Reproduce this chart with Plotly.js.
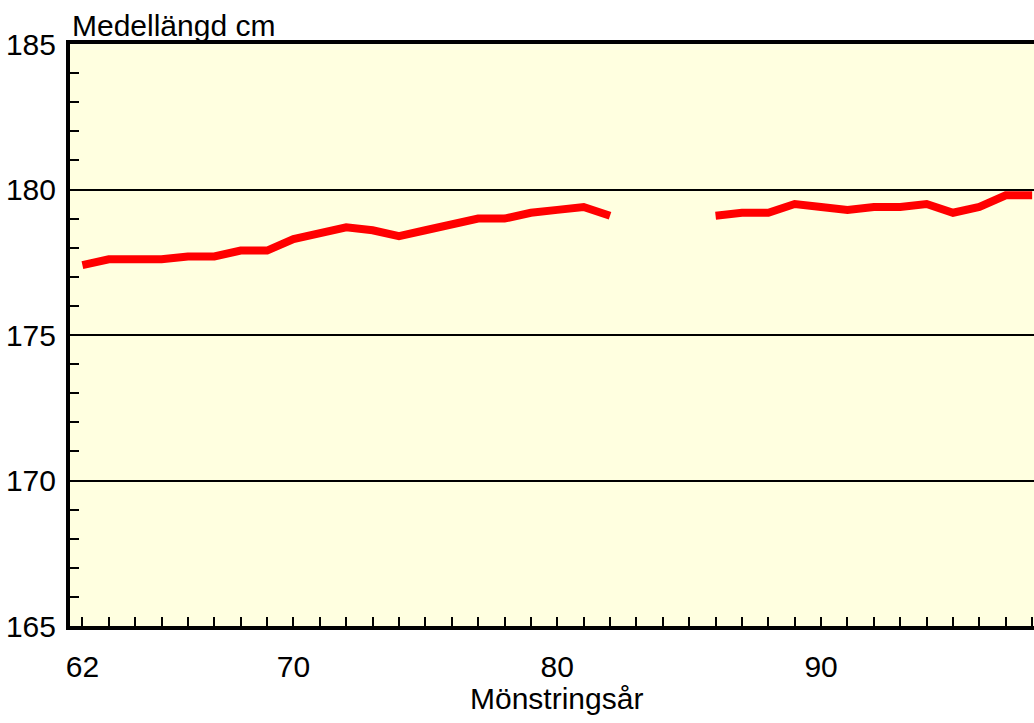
<!DOCTYPE html>
<html>
<head>
<meta charset="utf-8">
<script src="https://cdn.plot.ly/plotly-3.0.1.min.js"></script>
<style>html,body{margin:0;padding:0;background:#fff;}#chart{width:1034px;height:723px;}</style>
</head>
<body>
<div id="chart"></div>
<script>
const years = [62,63,64,65,66,67,68,69,70,71,72,73,74,75,76,77,78,79,80,81,82,83,84,85,86,87,88,89,90,91,92,93,94,95,96,97,98];
const heights = [177.4,177.6,177.6,177.6,177.7,177.7,177.9,177.9,178.3,178.5,178.7,178.6,178.4,178.6,178.8,179.0,179.0,179.2,179.3,179.4,179.1,null,null,null,179.1,179.2,179.2,179.5,179.4,179.3,179.4,179.4,179.5,179.2,179.4,179.8,179.8];
const xTickVals = [62,70,80,90];
const xTickText = ['62','70','80','90'];
const yTickVals = [165,170,175,180,185];
const titleText = 'Medellängd för alla mönstrade män, Sverige, fördelat på mönstringsår';
const yTitle = 'Medellängd cm';
const xTitle = 'Mönstringsår';

const FONT = 'Liberation Sans, Arial, sans-serif';
const FS = 30;

const trace = {
  x: years, y: heights, type: 'scatter', mode: 'lines',
  line: {color: '#ff0000', width: 8},
  connectgaps: false, hoverinfo: 'skip'
};

const layout = {
  width: 1034, height: 723,
  margin: {l: 70, r: 0, t: 44, b: 97},
  paper_bgcolor: '#ffffff',
  plot_bgcolor: '#ffffe0',
  showlegend: false,
  font: {family: FONT, color: '#000', size: FS},
  xaxis: {
    range: [61.53, 98.07],
    tickvals: xTickVals, ticktext: xTickText,
    ticks: 'inside', ticklen: 9, tickwidth: 2, tickcolor: '#000',
    minor: {dtick: 1, tick0: 62, ticks: 'inside', ticklen: 9, tickwidth: 2, tickcolor: '#000', showgrid: false},
    showgrid: false, zeroline: false,
    showline: true, linewidth: 4, linecolor: '#000', mirror: true,
    tickfont: {family: FONT, size: FS, color: '#000'},
    ticklabelstandoff: 11
  },
  yaxis: {
    range: [165, 185],
    tickvals: yTickVals,
    ticks: 'inside', ticklen: 9, tickwidth: 2, tickcolor: '#000',
    minor: {dtick: 1, tick0: 165, ticks: 'inside', ticklen: 9, tickwidth: 2, tickcolor: '#000', showgrid: false},
    showgrid: true, gridcolor: '#000', gridwidth: 2,
    zeroline: false,
    showline: true, linewidth: 4, linecolor: '#000',
    tickfont: {family: FONT, size: FS, color: '#000'},
    ticklabelstandoff: 4
  },
  annotations: [
    {text: yTitle, xref: 'paper', yref: 'paper', x: 0.0, y: 1.0, xanchor: 'left', yanchor: 'bottom',
     showarrow: false, font: {family: FONT, size: FS, color: '#000'}},
    {text: xTitle, xref: 'paper', yref: 'paper', x: 0.505, y: -0.125, xanchor: 'center', yanchor: 'middle',
     showarrow: false, font: {family: FONT, size: FS, color: '#000'}},
    {text: '<b>' + titleText + '</b>', xref: 'paper', yref: 'paper', x: 0.038, y: 1.0725, xanchor: 'left', yanchor: 'bottom',
     showarrow: false, font: {family: FONT, size: 28, color: '#000'}}
  ]
};

Plotly.newPlot('chart', [trace], layout, {displayModeBar: false, staticPlot: true});
</script>
</body>
</html>
